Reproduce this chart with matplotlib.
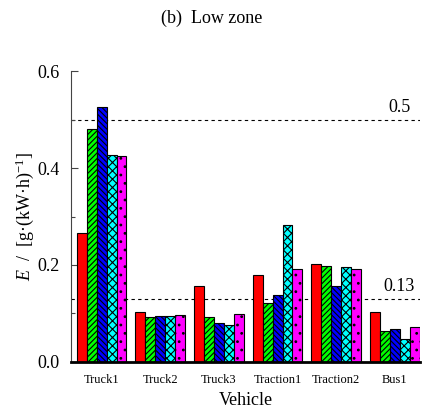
import numpy as np
import matplotlib
matplotlib.use("Agg")
import matplotlib.pyplot as plt

plt.rcParams['font.family'] = ['Liberation Serif', 'DejaVu Serif']
plt.rcParams['mathtext.fontset'] = 'custom'
plt.rcParams['mathtext.rm'] = 'Liberation Serif'
plt.rcParams['mathtext.it'] = 'Liberation Serif:italic'
plt.rcParams['hatch.linewidth'] = 0.8

vehicles = ['Truck1', 'Truck2', 'Truck3', 'Traction1', 'Traction2', 'Bus1']
s1 = [0.265, 0.103, 0.156, 0.180, 0.202, 0.103]
s2 = [0.480, 0.092, 0.093, 0.122, 0.198, 0.063]
s3 = [0.525, 0.094, 0.080, 0.138, 0.157, 0.068]
s4 = [0.427, 0.094, 0.076, 0.282, 0.195, 0.047]
s5 = [0.425, 0.096, 0.098, 0.192, 0.192, 0.072]
limits = [0.5, 0.13]

series = [s1, s2, s3, s4, s5]
colors = ['#ff0000', '#00ff00', '#0000ff', '#00ffff', '#ff00ff']
hatches = ['', '//////', '\\\\\\\\\\\\', 'xxxx', '..']

fig = plt.figure(figsize=(4.23, 4.16), dpi=100)
ax = fig.add_axes([0.168, 0.130, 0.825, 0.699])

x = np.arange(len(vehicles))
w = 0.17
for i, (vals, c, h) in enumerate(zip(series, colors, hatches)):
    ax.bar(x + (i - 2) * w, vals, w, color=c, edgecolor='black',
           linewidth=0.8, hatch=h, zorder=2)

for lim in limits:
    ax.axhline(lim, color='black', ls=(0, (3, 3)), lw=0.8, zorder=1)
    ax.text(5.08, lim + 0.008, f'{lim}', ha='center', va='bottom', fontsize=13)

ax.set_xlim(-0.52, 5.43)
ax.set_ylim(0, 0.6)
ax.set_xticks(x)
ax.set_xticklabels(vehicles, fontsize=9)
ax.set_yticks([0, 0.2, 0.4, 0.6])
ax.set_yticklabels(['0.0', '0.2', '0.4', '0.6'], fontsize=13)
ax.set_yticks([0.1, 0.3, 0.5], minor=True)
ax.tick_params(axis='y', which='major', direction='in', length=5, width=0.8,
               color='#444444', pad=8)
ax.tick_params(axis='y', which='minor', direction='in', length=3, width=0.8,
               color='#444444')
ax.tick_params(axis='x', length=0, pad=9)

ax.spines['top'].set_visible(False)
ax.spines['right'].set_visible(False)
ax.spines['left'].set_color('#444444')
ax.spines['left'].set_linewidth(0.8)
ax.spines['bottom'].set_linewidth(2)
ax.spines['bottom'].set_zorder(3)

ax.set_xlabel('Vehicle', fontsize=13, labelpad=4)
ax.set_ylabel(r'$E$  /  [g·(kW·h)$^{-1}$]', fontsize=13, labelpad=1)
fig.text(0.5, 0.955, '(b)  Low zone', ha='center', va='center', fontsize=13)

fig.savefig('out.png', dpi=100)
